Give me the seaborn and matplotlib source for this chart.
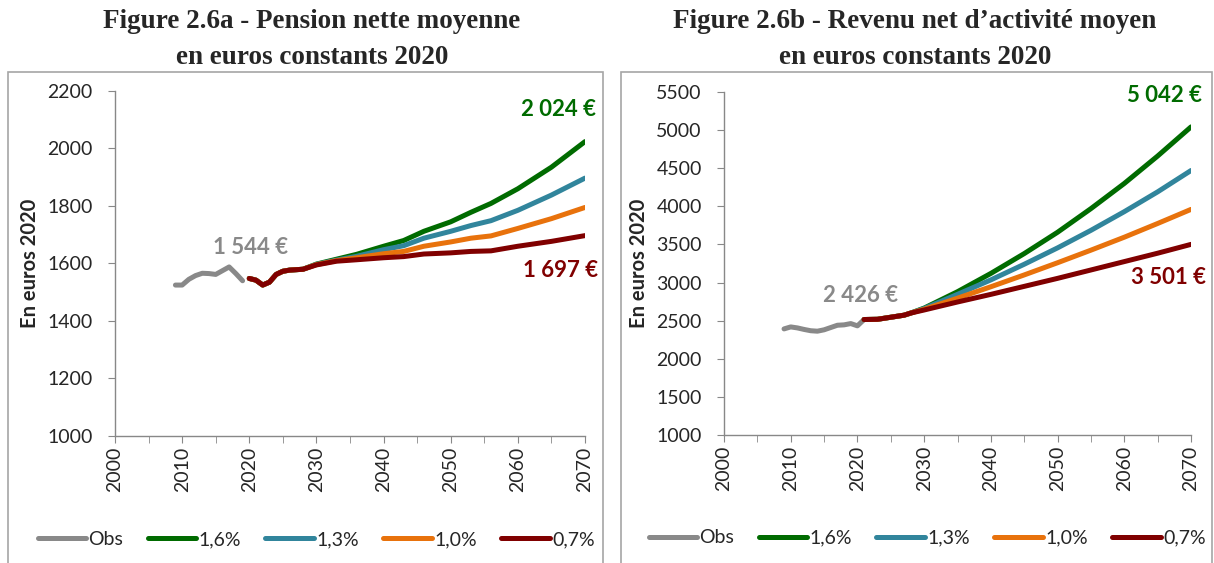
import matplotlib
matplotlib.use("Agg")
import matplotlib.pyplot as plt
import numpy as np
import pandas as pd
import seaborn as sns
from matplotlib.patches import Rectangle
from matplotlib.ticker import MultipleLocator

# --- data ---
series_names = ["Obs", "1,6%", "1,3%", "1,0%", "0,7%"]
colors = ["#898989", "#006b00", "#31859c", "#e8720c", "#800000"]

# Figure 2.6a - pension nette moyenne
obs_years_a = [2009, 2010, 2011, 2012, 2013, 2014, 2015, 2016, 2017, 2018, 2019]
obs_a = [1525, 1525, 1545, 1558, 1566, 1565, 1562, 1575, 1588, 1565, 1540]

proj_years_a = [2020, 2021, 2022, 2023, 2024, 2025, 2026, 2028, 2030, 2033,
                2036, 2040, 2043, 2046, 2050, 2053, 2056, 2060, 2065, 2070]
common_a = [1548, 1542, 1525, 1535, 1562, 1573, 1577, 1580]
p16_a = common_a + [1598, 1615, 1632, 1660, 1680, 1712, 1745, 1778, 1809, 1860, 1935, 2024]
p13_a = common_a + [1597, 1612, 1625, 1648, 1662, 1688, 1712, 1732, 1749, 1785, 1838, 1897]
p10_a = common_a + [1596, 1610, 1620, 1634, 1642, 1660, 1675, 1688, 1696, 1722, 1756, 1795]
p07_a = common_a + [1595, 1608, 1613, 1620, 1624, 1633, 1637, 1642, 1644, 1660, 1677, 1697]

# Figure 2.6b - revenu net d'activite moyen
obs_years_b = [2009, 2010, 2011, 2012, 2013, 2014, 2015, 2016, 2017, 2018, 2019, 2020, 2021]
obs_b = [2392, 2418, 2405, 2385, 2368, 2362, 2380, 2410, 2440, 2445, 2462, 2432, 2515]

proj_years_b = [2021, 2023, 2025, 2027, 2028, 2030, 2035, 2040, 2045, 2050, 2055, 2060, 2065, 2070]
common_b = [2515, 2518, 2545, 2572, 2600]
p16_b = common_b + [2665, 2880, 3120, 3380, 3660, 3970, 4300, 4660, 5042]
p13_b = common_b + [2660, 2845, 3035, 3240, 3455, 3685, 3930, 4190, 4470]
p10_b = common_b + [2650, 2795, 2945, 3100, 3260, 3425, 3595, 3775, 3960]
p07_b = common_b + [2640, 2745, 2845, 2950, 3055, 3165, 3275, 3385, 3501]

title_lines = [("Figure 2.6a - Pension nette moyenne", "en euros constants 2020"),
               ("Figure 2.6b - Revenu net d\u2019activit\u00e9 moyen", "en euros constants 2020")]


def build_frame(obs_years, obs, proj_years, projections):
    parts = [pd.DataFrame({"annee": obs_years, "valeur": obs, "serie": "Obs"})]
    for name, vals in zip(series_names[1:], projections):
        parts.append(pd.DataFrame({"annee": proj_years, "valeur": vals, "serie": name}))
    return pd.concat(parts, ignore_index=True)


df_a = build_frame(obs_years_a, obs_a, proj_years_a, [p16_a, p13_a, p10_a, p07_a])
df_b = build_frame(obs_years_b, obs_b, proj_years_b, [p16_b, p13_b, p10_b, p07_b])

sns.set_style("ticks")
plt.rcParams["font.family"] = ["Lato", "DejaVu Sans"]

W, H = 1214, 563
fig = plt.figure(figsize=(W / 100, H / 100), dpi=100)

# panel frames (Excel chart-area borders)
for x0, x1 in [(8, 603), (621, 1212)]:
    fig.patches.append(Rectangle((x0 / W, -0.02), (x1 - x0) / W, 1.02 - 72 / H,
                                 transform=fig.transFigure, fill=False,
                                 edgecolor="#a6a6a6", linewidth=1.2))

ax_a = fig.add_axes([115 / W, 1 - 436 / H, 470 / W, 345 / H])
ax_b = fig.add_axes([724 / W, 1 - 435 / H, 467 / W, 343 / H])

palette = dict(zip(series_names, colors))

panels = [
    (ax_a, df_a, (1000, 2200), 200,
     [("2 024 \u20ac", 2066.0, 2134, colors[1]), ("1 697 \u20ac", 2066.4, 1577, colors[4]),
      ("1 544 \u20ac", 2020.2, 1654, colors[0])],
     0.428, 312),
    (ax_b, df_b, (1000, 5500), 500,
     [("5 042 \u20ac", 2066.0, 5450, colors[1]), ("3 501 \u20ac", 2066.6, 3060, colors[4]),
      ("2 426 \u20ac", 2020.4, 2824, colors[0])],
     0.435, 915),
]

for i, (ax, df, ylim, ystep, labels, leg_x, title_x) in enumerate(panels):
    sns.lineplot(data=df, x="annee", y="valeur", hue="serie", hue_order=series_names,
                 palette=palette, linewidth=3.6, ax=ax, solid_capstyle="round",
                 legend=True)
    ax.set_xlim(2000, 2070)
    ax.set_ylim(*ylim)
    ax.set_xticks(np.arange(2000, 2071, 10))
    ax.xaxis.set_minor_locator(MultipleLocator(5))
    ax.set_yticks(np.arange(ylim[0], ylim[1] + 1, ystep))
    ax.tick_params(axis="x", which="both", rotation=90, labelsize=14, length=5,
                   color="#888888", pad=3)
    ax.tick_params(axis="y", labelsize=14, length=5, color="#888888", pad=11)
    for side in ["top", "right"]:
        ax.spines[side].set_visible(False)
    for side in ["left", "bottom"]:
        ax.spines[side].set_color("#888888")
        ax.spines[side].set_linewidth(1.0)
    ax.set_xlabel("")
    ax.set_ylabel("En euros 2020", fontsize=14.5, fontweight="bold", labelpad=5)
    for line, ypix in zip(title_lines[i], (22, 57)):
        fig.text(title_x / W, 1 - ypix / H, line, family="Liberation Serif",
                 fontsize=19.5, fontweight="bold", ha="center", va="center")
    for txt, x, y, c in labels:
        ax.text(x, y, txt, color=c, fontsize=16, fontweight="bold",
                ha="center", va="center", clip_on=False)
    handles, labs = ax.get_legend_handles_labels()
    ax.legend(handles, labs, loc="center", bbox_to_anchor=(leg_x, -0.30), ncol=5,
              frameon=False, fontsize=14, handlelength=2.5, handletextpad=0.12,
              columnspacing=1.25, borderaxespad=0)

fig.savefig("out.png", dpi=100)
